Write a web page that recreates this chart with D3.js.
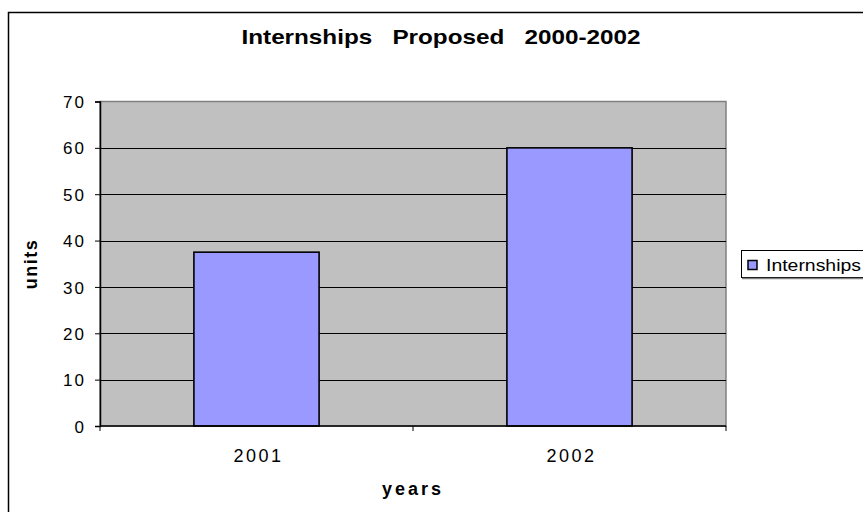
<!DOCTYPE html>
<html>
<head>
<meta charset="utf-8">
<script src="https://cdn.jsdelivr.net/npm/d3@7"></script>
<style>
  html, body { margin: 0; padding: 0; background: #fff; }
  svg { display: block; font-family: Arial, "Liberation Sans", sans-serif; }
</style>
</head>
<body>
<div id="chart"></div>
<script>
// Internships proposed per year — bar chart, one series.
const years = ['2001', '2002'];
const internships = [37.5, 60];
const yTicks = [0, 10, 20, 30, 40, 50, 60, 70];
const seriesName = 'Internships';

(function () {
  const W = 863, H = 512;
  const plot = { left: 100, right: 726, top: 101.5, bottom: 426 };

  const svg = d3.select('#chart').append('svg')
    .attr('width', W)
    .attr('height', H);

  // outer chart frame (runs off the right and bottom edges)
  svg.append('rect')
    .attr('x', 8.5).attr('y', 12.5)
    .attr('width', 900).attr('height', 600)
    .attr('fill', '#fff')
    .attr('stroke', '#000').attr('stroke-width', 1.5);

  const x = d3.scaleBand()
    .domain(years)
    .range([plot.left, plot.right])
    .paddingInner(0.6)
    .paddingOuter(0.3);

  const y = d3.scaleLinear()
    .domain([0, 70])
    .range([plot.bottom, plot.top]);

  // plot area
  svg.append('rect')
    .attr('x', plot.left).attr('y', plot.top)
    .attr('width', plot.right - plot.left).attr('height', plot.bottom - plot.top)
    .attr('fill', '#c0c0c0')
    .attr('stroke', '#808080').attr('stroke-width', 1.5);

  // gridlines
  svg.append('g')
    .selectAll('line')
    .data(yTicks.filter(d => d > 0 && d < 70))
    .join('line')
    .attr('x1', plot.left).attr('x2', plot.right)
    .attr('y1', d => Math.round(y(d)) + 0.5).attr('y2', d => Math.round(y(d)) + 0.5)
    .attr('stroke', '#000').attr('stroke-width', 1);

  // bars
  svg.append('g')
    .selectAll('rect')
    .data(internships)
    .join('rect')
    .attr('x', (d, i) => x(years[i]))
    .attr('y', d => y(d))
    .attr('width', x.bandwidth())
    .attr('height', d => y(0) - y(d))
    .attr('fill', '#9999ff')
    .attr('stroke', '#000').attr('stroke-width', 1.6);

  // y axis
  const yAxis = svg.append('g')
    .attr('transform', `translate(${plot.left},0)`)
    .call(d3.axisLeft(y).tickValues(yTicks).tickSize(5).tickPadding(9));
  yAxis.select('.domain').attr('stroke', '#000').attr('stroke-width', 1.5);
  yAxis.selectAll('.tick line').attr('stroke', '#000');
  yAxis.selectAll('.tick text')
    .attr('font-size', 17)
    .attr('letter-spacing', '2px')
    .attr('dy', '0.36em')
    .attr('fill', '#000');

  // x axis: ticks sit between categories
  const boundaries = [plot.left, (plot.left + plot.right) / 2, plot.right];
  svg.append('line')
    .attr('x1', plot.left).attr('x2', plot.right)
    .attr('y1', plot.bottom).attr('y2', plot.bottom)
    .attr('stroke', '#000').attr('stroke-width', 1.5);
  svg.append('g')
    .selectAll('line')
    .data(boundaries)
    .join('line')
    .attr('x1', d => d).attr('x2', d => d)
    .attr('y1', plot.bottom).attr('y2', plot.bottom + 5)
    .attr('stroke', '#000');
  svg.append('g')
    .selectAll('text')
    .data(years)
    .join('text')
    .attr('x', d => x(d) + x.bandwidth() / 2 + 2)
    .attr('y', 462)
    .attr('text-anchor', 'middle')
    .attr('font-size', 18)
    .attr('letter-spacing', '2.5px')
    .text(d => d);

  // titles
  svg.append('text')
    .attr('x', 441).attr('y', 44)
    .attr('text-anchor', 'middle')
    .attr('font-size', 21).attr('font-weight', 'bold')
    .attr('textLength', 399).attr('lengthAdjust', 'spacingAndGlyphs')
    .style('white-space', 'pre')
    .text('Internships   Proposed   2000-2002');

  svg.append('text')
    .attr('x', 413).attr('y', 495)
    .attr('text-anchor', 'middle')
    .attr('font-size', 18).attr('font-weight', 'bold')
    .attr('letter-spacing', '3px')
    .text('years');

  svg.append('text')
    .attr('transform', 'translate(37,264) rotate(-90)')
    .attr('text-anchor', 'middle')
    .attr('font-size', 18).attr('font-weight', 'bold')
    .attr('letter-spacing', '1.5px')
    .text('units');

  // legend
  const lg = svg.append('g');
  lg.append('rect')
    .attr('x', 741.5).attr('y', 250.5)
    .attr('width', 140).attr('height', 27)
    .attr('fill', '#fff')
    .attr('stroke', '#000').attr('stroke-width', 1);
  lg.append('line')
    .attr('x1', 742).attr('x2', 870)
    .attr('y1', 278.5).attr('y2', 278.5)
    .attr('stroke', '#808080').attr('stroke-width', 1.5);
  lg.append('rect')
    .attr('x', 748).attr('y', 260.5)
    .attr('width', 9).attr('height', 9)
    .attr('fill', '#9999ff')
    .attr('stroke', '#000').attr('stroke-width', 1.5);
  lg.append('text')
    .attr('x', 766).attr('y', 271)
    .attr('font-size', 17)
    .attr('textLength', 95).attr('lengthAdjust', 'spacingAndGlyphs')
    .text(seriesName);
})();
</script>
</body>
</html>
